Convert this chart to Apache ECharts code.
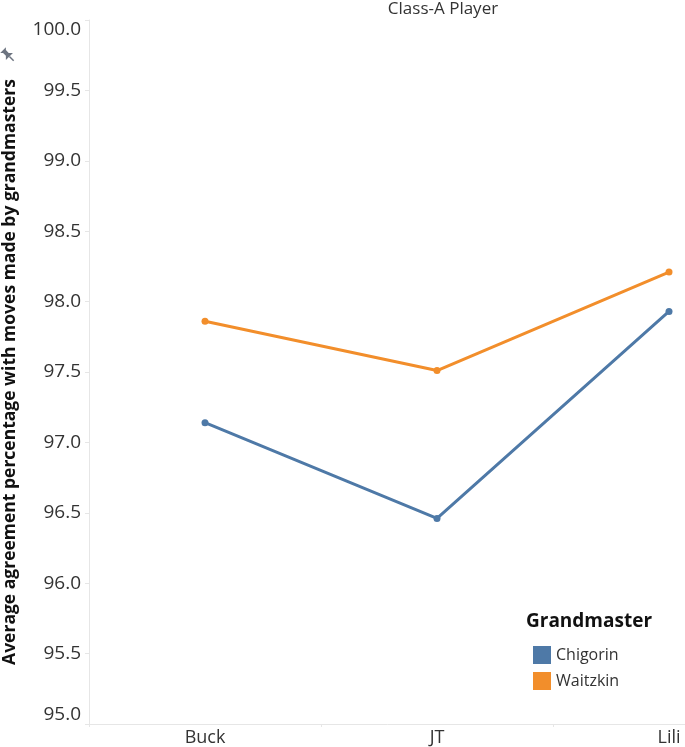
<!DOCTYPE html>
<html><head><meta charset="utf-8">
<script src="https://cdn.jsdelivr.net/npm/echarts@6/dist/echarts.min.js"></script>
<style>html,body{margin:0;padding:0;background:#fff}#c{width:685px;height:747px}</style>
</head><body><div id="c"></div>
<script>
const categories = ["Buck", "JT", "Lili"];
const chigorin = [97.14, 96.46, 97.93];
const waitzkin = [97.86, 97.51, 98.21];
const yTicks = [95.0, 95.5, 96.0, 96.5, 97.0, 97.5, 98.0, 98.5, 99.0, 99.5, 100.0];

const FONT = "'Open Sans', 'Noto Sans', sans-serif";
const chart = echarts.init(document.getElementById('c'));
chart.setOption({
  animation: false,
  title: {
    text: 'Class-A Player', left: 438, top: -4, textAlign: 'center',
    textStyle: {fontFamily: FONT, fontSize: 17, fontWeight: 'normal', color: '#333'}
  },
  legend: {
    orient: 'vertical', left: 528, top: 641, itemGap: 8,
    icon: 'rect', itemWidth: 18, itemHeight: 18,
    textStyle: {fontFamily: FONT, fontSize: 16, color: '#333'},
    data: ['Chigorin', 'Waitzkin']
  },
  graphic: [
    {type: 'text', left: 526, top: 612,
     style: {text: 'Grandmaster', font: "bold 19px 'Open Sans', 'Noto Sans', sans-serif", fill: '#111'}},
    {type: 'polygon', x: 8, y: 55, rotation: Math.PI / 4,
     shape: {points: [[-4,-7],[4,-7],[2,-5],[2,-1],[5,2],[-5,2],[-2,-1],[-2,-5]]},
     style: {fill: '#6d7480'}},
    {type: 'line', x: 8, y: 55, rotation: Math.PI / 4,
     shape: {x1: 0, y1: 2, x2: 0, y2: 8}, style: {stroke: '#6d7480', lineWidth: 1.5}}
  ],
  grid: {left: 89, top: 20, bottom: 23, right: -100, containLabel: false, outerBoundsMode: 'none'},
  xAxis: {
    type: 'category', data: categories, boundaryGap: true,
    axisLine: {lineStyle: {color: '#e6e6e6'}},
    axisTick: {show: true, length: 3, lineStyle: {color: '#e6e6e6'}},
    axisLabel: {fontFamily: FONT, fontSize: 18, color: '#333', margin: 5}
  },
  yAxis: {
    type: 'value', min: 95, max: 100, interval: 0.5,
    name: 'Average agreement percentage with moves made by grandmasters',
    nameLocation: 'middle', nameGap: 70, nameRotate: 90,
    nameTextStyle: {fontFamily: FONT, fontSize: 17.5, fontWeight: 'bold', color: '#111'},
    splitLine: {show: false},
    axisLine: {show: true, lineStyle: {color: '#e6e6e6'}},
    axisTick: {show: true, length: 4, lineStyle: {color: '#e6e6e6'}},
    axisLabel: {
      fontFamily: FONT, fontSize: 19, color: '#333', margin: 8,
      formatter: v => yTicks.includes(v) ? v.toFixed(1) : '',
      verticalAlign: 'middle',
      verticalAlignMinLabel: 'bottom', verticalAlignMaxLabel: 'top'
    }
  },
  series: [
    {name: 'Chigorin', type: 'line', data: chigorin, color: '#4e79a7',
     symbol: 'circle', symbolSize: 7, lineStyle: {width: 3}},
    {name: 'Waitzkin', type: 'line', data: waitzkin, color: '#f28e2b',
     symbol: 'circle', symbolSize: 7, lineStyle: {width: 3}}
  ]
});
</script></body></html>
